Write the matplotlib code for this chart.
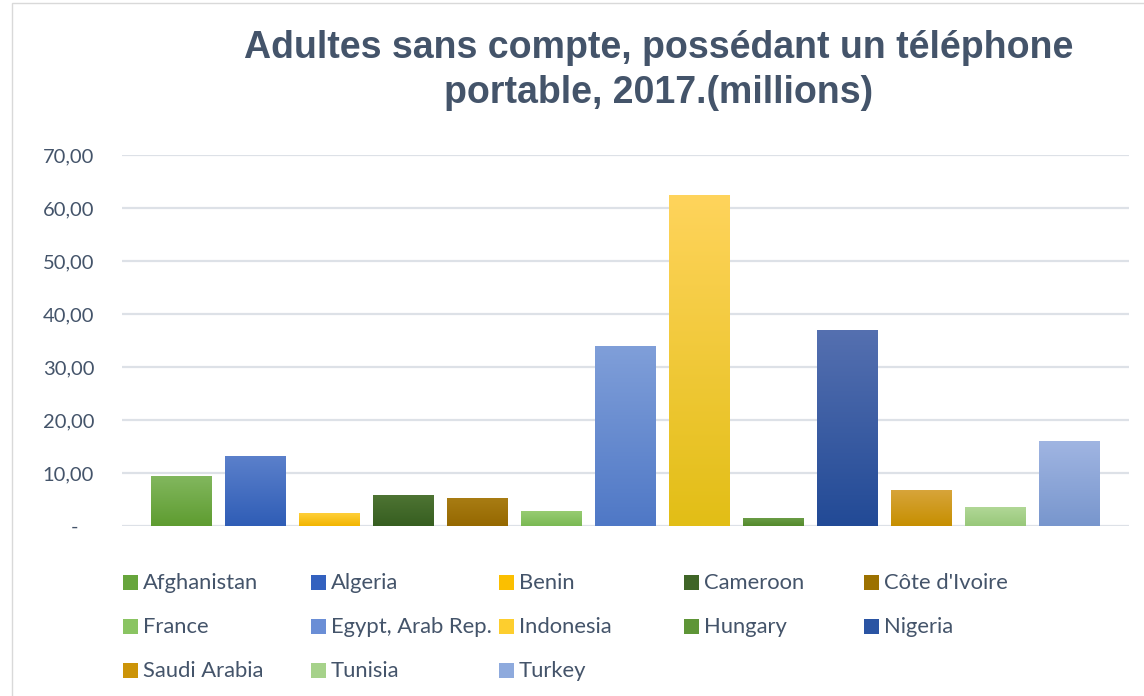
import matplotlib
matplotlib.use("Agg")
import matplotlib.pyplot as plt
import numpy as np
from matplotlib.colors import LinearSegmentedColormap
from matplotlib.patches import Rectangle

# Data: adults without an account who own a mobile phone, 2017 (millions)
countries = ["Afghanistan", "Algeria", "Benin", "Cameroon", "Côte d'Ivoire",
             "France", "Egypt, Arab Rep.", "Indonesia", "Hungary", "Nigeria",
             "Saudi Arabia", "Tunisia", "Turkey"]
values = [9.4, 13.2, 2.4, 5.8, 5.3, 2.8, 34.0, 62.5, 1.5, 37.0, 6.8, 3.6, 16.0]
y_ticks = [0, 10, 20, 30, 40, 50, 60, 70]

# Gradient fill per bar: (top colour, bottom colour), plus legend swatch colour
grad_top = ["#82b75e", "#5b80cb", "#ffcf3a", "#4e7433", "#a97d14",
            "#97cc72", "#809fd9", "#ffd45c", "#6a9c45", "#5570b0",
            "#d8a53c", "#b2d898", "#a0b5e2"]
grad_bot = ["#5e9c30", "#2f5db6", "#f2b500", "#365e20", "#956800",
            "#7ab954", "#4f78c6", "#e2be16", "#538a2c", "#224a96",
            "#c68f00", "#98c87a", "#7896cd"]
swatch = ["#67a53c", "#3361bf", "#fbbf00", "#3f6527", "#9c7100",
          "#8ac462", "#6a8ed6", "#fdce2e", "#5e9537", "#2a54a3",
          "#cc9408", "#a6d28a", "#8eaadd"]

text_color = "#44546a"
grid_color = "#dde1e7"

W, H = 1144, 696
fig = plt.figure(figsize=(W / 100, H / 100), dpi=100)
fig.patch.set_facecolor("white")

# Chart frame
fig.patches.append(Rectangle((12 / W, -0.01), 1.1, (696 - 3) / H + 0.01,
                             transform=fig.transFigure, fill=False,
                             edgecolor="#d9d9d9", linewidth=1.0))

ax = fig.add_axes([122 / W, (H - 526) / H, (1129 - 122) / W, (526 - 155) / H])
x = np.arange(len(values))
width = 0.824
bars = ax.bar(x, values, width=width, color="none", edgecolor="none", zorder=3)

# Vertical gradients clipped to each bar
grad = np.linspace(1, 0, 256).reshape(-1, 1)
for bar, top, bot in zip(bars, grad_top, grad_bot):
    cmap = LinearSegmentedColormap.from_list("g", [bot, top])
    bx, by = bar.get_x(), bar.get_y()
    bw, bh = bar.get_width(), bar.get_height()
    im = ax.imshow(grad, cmap=cmap, aspect="auto", vmin=0, vmax=1,
                   extent=(bx, bx + bw, by, by + bh), zorder=3,
                   interpolation="bilinear")
    im.set_clip_path(bar)
ax.set_xlim(-0.804, len(values) - 1 + 0.804)
ax.set_ylim(0, 70)

for s in ax.spines.values():
    s.set_visible(False)
ax.set_yticks(y_ticks)
ax.set_yticklabels([("%.2f" % v).replace(".", ",") if v else "-   " for v in y_ticks],
                   fontsize=14.5, color=text_color, family="Lato")
ax.tick_params(axis="y", length=0, pad=20)
ax.set_xticks([])
ax.yaxis.grid(True, color=grid_color, linewidth=1.6, zorder=0)
ax.set_axisbelow(True)

# Title
fig.text(659 / W, 1 - 48 / H, "Adultes sans compte, possédant un téléphone",
         ha="center", va="center", fontsize=27, fontweight="bold",
         color=text_color, family="Liberation Sans")
fig.text(659 / W, 1 - 93 / H, "portable, 2017.(millions)",
         ha="center", va="center", fontsize=27, fontweight="bold",
         color=text_color, family="Liberation Sans")

# Legend laid out row by row in five columns
col_x = [123, 311, 499, 684, 864]
row_y = [583, 627, 671]
sq = 15
for i, (name, c) in enumerate(zip(countries, swatch)):
    r, col = divmod(i, 5)
    px, py = col_x[col], row_y[r]
    fig.patches.append(Rectangle((px / W, (H - py + 1 - sq / 2) / H), sq / W, sq / H,
                                 transform=fig.transFigure, facecolor=c,
                                 edgecolor="none"))
    fig.text((px + sq + 5) / W, (H - py) / H, name, ha="left", va="center",
             fontsize=15.8, color=text_color, family="Lato")

fig.savefig("out.png", dpi=100)
